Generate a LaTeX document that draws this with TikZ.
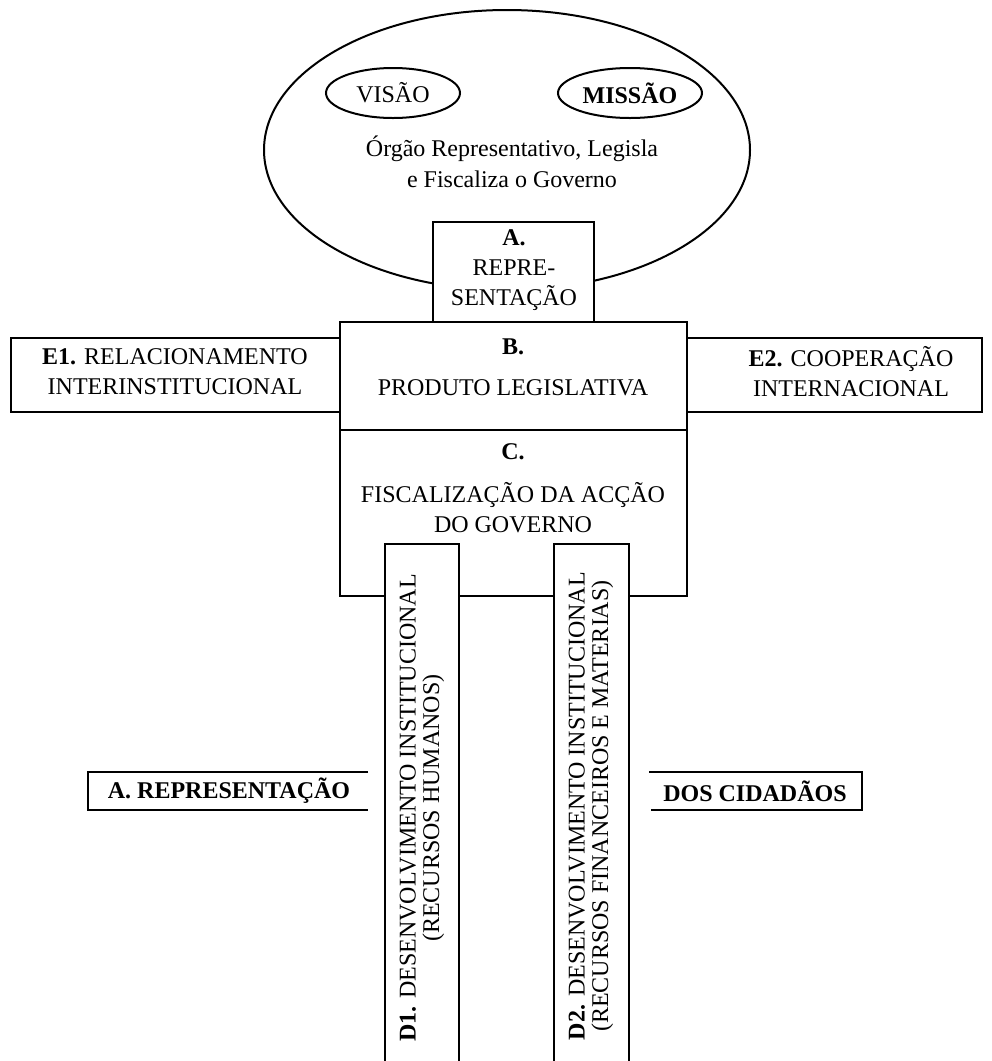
\documentclass[tikz,border=0pt]{standalone}
\usepackage{fontspec}
\setmainfont{Liberation Serif}
\usepackage{tikz}
\tikzset{every picture/.style={line width=1.5pt}}
\tikzset{
  lbl/.style={inner sep=0.75pt, align=center, font=\fontsize{18}{22.5}\selectfont},
  vlbl/.style={lbl, rotate=90, font=\fontsize{18}{17.5}\selectfont},
  thinline/.style={line width=0.9pt}
}

\begin{document}
\begin{tikzpicture}[x=0.75pt,y=0.75pt,yscale=-1,xscale=1]
\useasboundingbox (0,0) rectangle (992,1061);

%Shape: Ellipse [org]
\draw   (507,150) ellipse [x radius=243, y radius=140];
%Shape: Ellipse [visao]
\draw   (393,93) ellipse [x radius=67, y radius=25];
%Shape: Ellipse [missao]
\draw   (630,93) ellipse [x radius=72, y radius=25];
%Shape: Rectangle [A]
\draw [fill=white]  (433,222) -- (594,222) -- (594,322) -- (433,322) -- cycle ;
%Shape: Rectangle [E1]
\draw   (11,338) -- (340,338) -- (340,412) -- (11,412) -- cycle ;
%Shape: Rectangle [E2]
\draw   (687,338) -- (982,338) -- (982,412) -- (687,412) -- cycle ;
%Shape: Rectangle [B]
\draw [fill=white]  (340,322) -- (687,322) -- (687,430) -- (340,430) -- cycle ;
%Shape: Rectangle [C]
\draw   (340,430) -- (687,430) -- (687,596) -- (340,596) -- cycle ;
%Shape: Leg [D1]
\fill [white]  (385,544) rectangle (459,1061) ;
\draw   (385,1061) -- (385,544) -- (459,544) -- (459,1061) ;
%Shape: Leg [D2]
\fill [white]  (554,544) rectangle (629,1061) ;
\draw   (554,1061) -- (554,544) -- (629,544) -- (629,1061) ;
%Straight Lines [side A]
\draw [thinline]  (368,772) -- (88,772) -- (88,810) -- (368,810) ;
%Straight Lines [side cidadaos]
\draw [thinline]  (649,772) -- (862,772) -- (862,810) -- (651,810) ;

% Text Node
\draw (393,93) node [lbl] (visaotxt) {VISÃO};
% Text Node
\draw (630,93) node [lbl] (missaotxt) {\textbf{MISSÃO}};
% Text Node
\draw (512,162) node [lbl, font=\fontsize{18}{23}\selectfont] (orgtxt) {Órgão Representativo, Legisla\\e Fiscaliza o Governo};
% Text Node
\draw (514,270) node [lbl] (atxt) {\textbf{A.}\\REPRE-\\SENTAÇÃO};
% Text Node
\draw (513,347) node [lbl] (bnum) {\textbf{B.}};
% Text Node
\draw (513,388) node [lbl] (btxt) {PRODUTO LEGISLATIVA};
% Text Node
\draw (175,372) node [lbl] (e1txt) {\textbf{E1.} RELACIONAMENTO\\INTERINSTITUCIONAL};
% Text Node
\draw (851,372) node [lbl] (e2txt) {\textbf{E2.} COOPERAÇÃO\\INTERNACIONAL};
% Text Node
\draw (513,452) node [lbl] (cnum) {\textbf{C.}};
% Text Node
\draw (513,508) node [lbl] (ctxt) {FISCALIZAÇÃO DA ACÇÃO\\DO GOVERNO};
% Text Node
\draw (422,808) node [vlbl] (d1txt) {\textbf{D1.} DESENVOLVIMENTO INSTITUCIONAL\\(RECURSOS HUMANOS)};
% Text Node
\draw (591,806) node [vlbl] (d2txt) {\textbf{D2.} DESENVOLVIMENTO INSTITUCIONAL\\(RECURSOS FINANCEIROS E MATERIAS)};
% Text Node
\draw (229,791) node [lbl] (sidea) {\textbf{A. REPRESENTAÇÃO}};
% Text Node
\draw (755,791) node [lbl] (sidec) {\textbf{DOS CIDADÃOS}};
\end{tikzpicture}
\end{document}
